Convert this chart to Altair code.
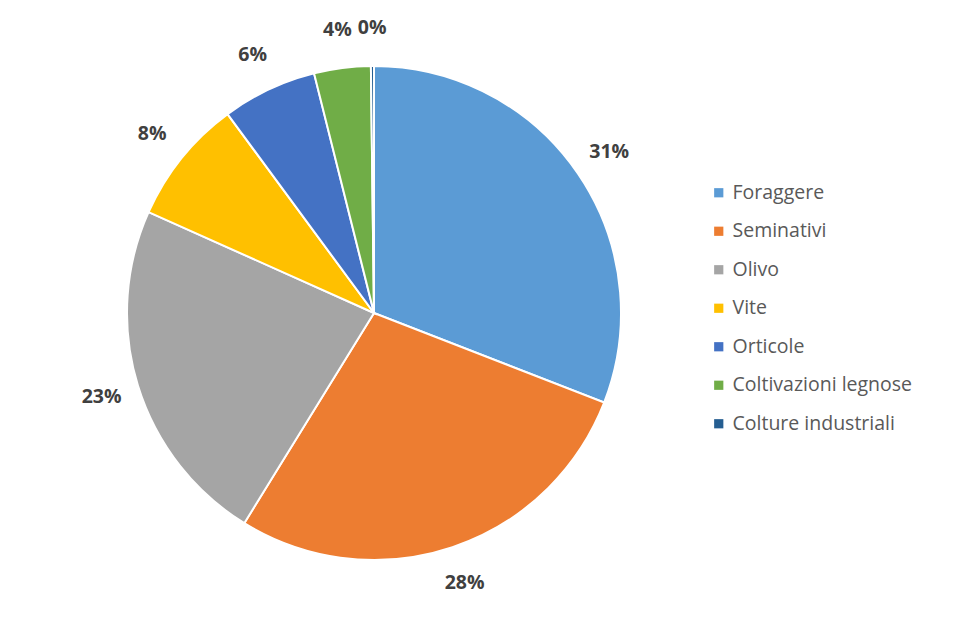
import altair as alt
import pandas as pd

categories = ["Foraggere", "Seminativi", "Olivo", "Vite", "Orticole",
              "Coltivazioni legnose", "Colture industriali"]
values = [30.9, 27.9, 22.9, 8.2, 6.2, 3.7, 0.2]
colors = ["#5B9BD5", "#ED7D31", "#A5A5A5", "#FFC000", "#4472C4", "#70AD47", "#255E91"]

df = pd.DataFrame({
    "cat": categories,
    "val": values,
    "idx": list(range(len(categories))),
})
df["label"] = [f"{round(v):.0f}%" for v in values]

cx, cy = 366, 305

base = alt.Chart(df).encode(
    theta=alt.Theta("val:Q", stack=True),
    order=alt.Order("idx:Q"),
)

pie = base.mark_arc(outerRadius=247, stroke="white", strokeWidth=2).encode(
    x=alt.value(cx), y=alt.value(cy),
    color=alt.Color("cat:N", scale=alt.Scale(domain=categories, range=colors),
                    sort=categories,
                    legend=alt.Legend(title=None, orient="none", legendX=701, legendY=175,
                                      symbolType="square", symbolSize=85,
                                      symbolStrokeWidth=0,
                                      labelFont="Open Sans", labelFontSize=19.5,
                                      labelColor="#595959", rowPadding=17.5,
                                      labelOffset=4, padding=0, labelLimit=400)),
)

text = base.mark_text(radius=285, font="Open Sans", fontSize=19.5, fontWeight="bold",
                      color="#404040").encode(
    x=alt.value(cx), y=alt.value(cy),
    text="label:N",
)

chart = (pie + text).properties(
    width=953, height=601, autosize="none", padding=0, background="white"
).configure_view(stroke=None)

chart.save("out.html", embed_options={"renderer": "svg", "actions": False})
